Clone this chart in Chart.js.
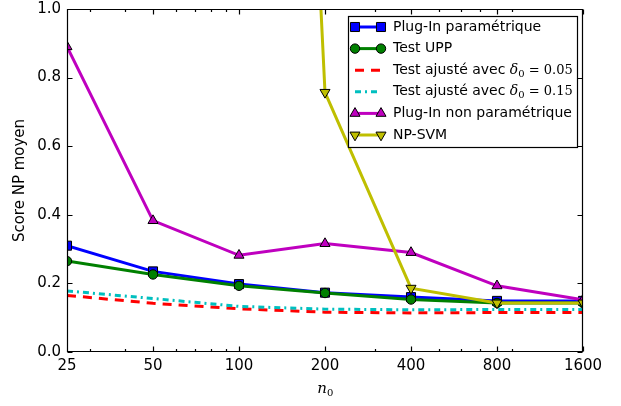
<!DOCTYPE html>
<html>
<head>
<meta charset="utf-8">
<script src="https://cdn.jsdelivr.net/npm/chart.js@4/dist/chart.umd.min.js"></script>
<style>
  body { margin: 0; background: #fff; }
</style>
</head>
<body>
<canvas id="npChart" width="621" height="406"></canvas>
<script>
// values
const n0 = [25, 50, 100, 200, 400, 800, 1600];
const pluginParam = [0.31, 0.235, 0.198, 0.173, 0.160, 0.149, 0.149];
const testUPP = [0.265, 0.226, 0.193, 0.172, 0.153, 0.143, 0.143];
const ajuste005 = [0.165, 0.142, 0.126, 0.116, 0.114, 0.115, 0.115];
const ajuste015 = [0.178, 0.156, 0.133, 0.125, 0.123, 0.124, 0.124];
const pluginNonParam = [0.89, 0.383, 0.282, 0.316, 0.29, 0.193, 0.152];
const npSvm = [12, 8, 5.9, 0.757, 0.186, 0.143, 0.143];
const yTicks = [0, 0.2, 0.4, 0.6, 0.8, 1.0];
const xMinorTicks = [30, 40, 60, 70, 80, 90, 300, 500, 600, 700, 900];

const FONT = '"DejaVu Sans", sans-serif';
const MATH = '"DejaVu Serif", serif';

function pts(arr) {
    return n0.map((v, i) => ({ x: v, y: arr[i] }));
}

// label: plain part, then optional math part (delta_0 = value)
const series = [
    { label: 'Plug-In paramétrique', data: pluginParam, color: '#0000ff', marker: 'rect', radius: 6.4 },
    { label: 'Test UPP', data: testUPP, color: '#008000', marker: 'circle', radius: 4.7 },
    { label: 'Test ajusté avec ', math: '0.05', data: ajuste005, color: '#ff0000', dash: [9, 7] },
    { label: 'Test ajusté avec ', math: '0.15', data: ajuste015, color: '#00bfbf', dash: [6, 4, 2, 4] },
    { label: 'Plug-In non paramétrique', data: pluginNonParam, color: '#bf00bf', marker: 'triangle', radius: 5.8 },
    { label: 'NP-SVM', data: npSvm, color: '#bfbf00', marker: 'triangle', rotation: 180, radius: 5.8 }
];

function drawMarker(ctx, s, x, y) {
    if (!s.marker) return;
    ctx.save();
    ctx.fillStyle = s.color;
    ctx.strokeStyle = '#000';
    ctx.lineWidth = 1;
    ctx.setLineDash([]);
    Chart.helpers.drawPoint(ctx, { pointStyle: s.marker, radius: s.radius, rotation: s.rotation || 0, borderWidth: 1 }, x, y);
    ctx.restore();
}

// axes frame + inward ticks like matplotlib
const frameTicks = {
    id: 'frameTicks',
    afterDraw(chart) {
        const { ctx, chartArea: a, scales: { x, y } } = chart;
        const L = Math.round(a.left) + 0.5, R = Math.round(a.right) - 0.5;
        const T = Math.round(a.top) + 0.5, B = Math.round(a.bottom) - 0.5;
        ctx.save();
        ctx.strokeStyle = '#000000';
        ctx.lineWidth = 1.2;
        ctx.setLineDash([]);
        ctx.beginPath();
        ctx.rect(L, T, R - L, B - T);
        n0.forEach(v => {
            const px = Math.round(x.getPixelForValue(v)) + 0.5;
            ctx.moveTo(px, B); ctx.lineTo(px, B - 5);
            ctx.moveTo(px, T); ctx.lineTo(px, T + 5);
        });
        xMinorTicks.forEach(v => {
            const px = Math.round(x.getPixelForValue(v)) + 0.5;
            ctx.moveTo(px, B); ctx.lineTo(px, B - 2.5);
            ctx.moveTo(px, T); ctx.lineTo(px, T + 2.5);
        });
        yTicks.forEach(v => {
            const py = Math.round(y.getPixelForValue(v)) + 0.5;
            ctx.moveTo(L, py); ctx.lineTo(L + 5, py);
            ctx.moveTo(R, py); ctx.lineTo(R - 5, py);
        });
        ctx.stroke();

        // axis titles
        ctx.fillStyle = '#000';
        ctx.textAlign = 'center';
        ctx.textBaseline = 'middle';
        ctx.save();
        ctx.translate(20, (a.top + a.bottom) / 2);
        ctx.rotate(-Math.PI / 2);
        ctx.font = '15px ' + FONT;
        ctx.fillText('Score NP moyen', 0, 0);
        ctx.restore();
        const cx = (a.left + a.right) / 2;
        ctx.font = 'italic 15px ' + MATH;
        ctx.textAlign = 'right';
        ctx.fillText('n', cx + 2, 389);
        ctx.font = '10px ' + MATH;
        ctx.textAlign = 'left';
        ctx.fillText('0', cx + 2, 393);
        ctx.restore();
    }
};

const legendBox = {
    id: 'legendBox',
    afterDraw(chart) {
        const ctx = chart.ctx;
        const bx = 348, by = 16, bw = 229, bh = 131;
        ctx.save();
        ctx.fillStyle = '#fff';
        ctx.fillRect(bx, by, bw, bh);
        ctx.strokeStyle = '#000';
        ctx.lineWidth = 1.2;
        ctx.strokeRect(bx + 0.5, by + 0.5, bw, bh);
        series.forEach((s, i) => {
            const yy = 27 + i * 21.6;
            ctx.save();
            ctx.strokeStyle = s.color;
            ctx.lineWidth = 3;
            ctx.setLineDash(s.dash || []);
            ctx.beginPath();
            ctx.moveTo(355, yy); ctx.lineTo(381, yy);
            ctx.stroke();
            ctx.restore();
            drawMarker(ctx, s, 355, yy);
            drawMarker(ctx, s, 381, yy);
            ctx.fillStyle = '#000';
            ctx.textAlign = 'left';
            ctx.textBaseline = 'middle';
            ctx.font = '14px ' + FONT;
            ctx.fillText(s.label, 393, yy);
            if (s.math) {
                let tx = 393 + ctx.measureText(s.label).width;
                ctx.font = 'italic 14px ' + MATH;
                ctx.fillText('δ', tx, yy);
                tx += ctx.measureText('δ').width;
                ctx.font = '10px ' + MATH;
                ctx.fillText('0', tx, yy + 4);
                tx += ctx.measureText('0').width;
                ctx.font = '13px ' + MATH;
                ctx.fillText(' = ' + s.math, tx, yy);
            }
        });
        ctx.restore();
    }
};

new Chart(document.getElementById('npChart'), {
    type: 'line',
    data: {
        datasets: series.map((s, i) => ({
            label: s.label,
            data: pts(s.data),
            borderColor: s.color,
            backgroundColor: s.color,
            borderWidth: 3,
            borderDash: s.dash || [],
            borderCapStyle: 'butt',
            tension: 0,
            pointStyle: s.marker || 'circle',
            pointRotation: s.rotation || 0,
            pointRadius: s.marker ? s.radius : 0,
            pointBackgroundColor: s.color,
            pointBorderColor: '#000',
            pointBorderWidth: 1,
            clip: 0,
            order: series.length - i
        }))
    },
    options: {
        responsive: false,
        animation: false,
        devicePixelRatio: 1,
        layout: { padding: { top: 9, right: 38, left: 0, bottom: 0 } },
        plugins: {
            legend: { display: false },
            tooltip: { enabled: false }
        },
        scales: {
            x: {
                type: 'logarithmic',
                min: 25,
                max: 1600,
                grid: { display: false, drawTicks: false },
                border: { display: false },
                afterBuildTicks: scale => { scale.ticks = n0.map(v => ({ value: v })); },
                afterFit: scale => {
                    scale.height = 54;
                    scale.paddingLeft = 0;
                    scale.paddingRight = 0;
                },
                ticks: {
                    autoSkip: false,
                    maxRotation: 0,
                    padding: 5,
                    color: '#000',
                    font: { family: FONT, size: 15 },
                    callback: v => String(v)
                }
            },
            y: {
                min: 0,
                max: 1,
                grid: { display: false, drawTicks: false },
                border: { display: false },
                afterBuildTicks: scale => { scale.ticks = yTicks.map(v => ({ value: v })); },
                afterFit: scale => {
                    scale.width = 67;
                    scale.paddingTop = 0;
                    scale.paddingBottom = 0;
                },
                ticks: {
                    padding: 6,
                    color: '#000',
                    font: { family: FONT, size: 15 },
                    callback: v => Number(v).toFixed(1)
                }
            }
        }
    },
    plugins: [frameTicks, legendBox]
});
</script>
</body>
</html>
